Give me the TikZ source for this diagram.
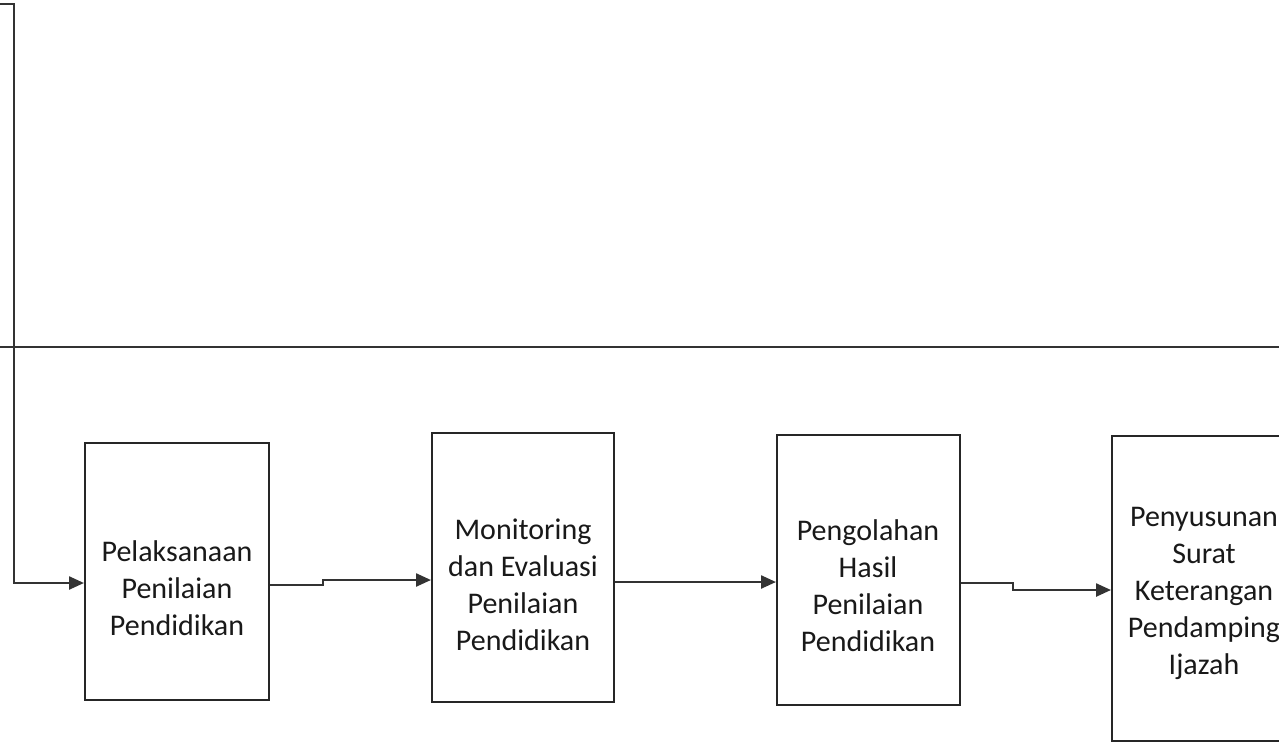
\documentclass[tikz,border=0pt]{standalone}
\usepackage{fontspec}
\setmainfont{Carlito}
\usetikzlibrary{arrows.meta}
\begin{document}
\begin{tikzpicture}[x=1pt,y=-1pt,
  procbox/.style={draw=black!85,line width=2pt,fill=white,inner sep=0pt},
  txt/.style={align=center,font=\fontsize{30}{37}\selectfont,text=black!90,inner sep=0pt},
  conn/.style={draw=black!80,line width=2.4pt},
  arr/.style={conn,-{Triangle[length=15pt,width=13pt]}}]
\useasboundingbox (0,0) rectangle (1279,745);
\clip (0,0) rectangle (1279,745);
\fill[white] (0,0) rectangle (1279,745);
% boxes
\node[procbox,minimum width=184pt,minimum height=257pt] (b1) at (177,571.5) {};
\node[procbox,minimum width=182pt,minimum height=269pt] (b2) at (523,567.5) {};
\node[procbox,minimum width=183pt,minimum height=270pt] (b3) at (868.5,570) {};
\node[procbox,minimum width=184pt,minimum height=305pt] (b4) at (1204,588.5) {};
% texts
\node[txt] (t1) at (177,588) {Pelaksanaan\\Penilaian\\Pendidikan};
\node[txt] (t2) at (523,585) {Monitoring\\dan Evaluasi\\Penilaian\\Pendidikan};
\node[txt] (t3) at (868,586) {Pengolahan\\Hasil\\Penilaian\\Pendidikan};
\node[txt] (t4) at (1204,593) {Penyusunan\\Surat\\Keterangan\\Pendamping\\Ijazah};
% horizontal divider
\coordinate (hl) at (0,347);
\coordinate (hr) at (1279,347);
\draw[conn] (hl) -- (hr);
% feed line from top
\coordinate (s) at (0,4);
\coordinate (k0) at (14,4);
\coordinate (k1) at (14,583);
\draw[arr] (s) -- (k0) -- (k1) -- (k1 -| b1.west);
% b1 -> b2
\coordinate (j1a) at (323,585);
\coordinate (j1b) at (323,580);
\draw[arr] (j1a -| b1.east) -- (j1a) -- (j1b) -- (j1b -| b2.west);
% b2 -> b3
\coordinate (j2) at (700,582);
\draw[arr] (j2 -| b2.east) -- (j2 -| b3.west);
% b3 -> b4
\coordinate (j3a) at (1013,583);
\coordinate (j3b) at (1013,590);
\draw[arr] (j3a -| b3.east) -- (j3a) -- (j3b) -- (j3b -| b4.west);
\end{tikzpicture}
\end{document}
